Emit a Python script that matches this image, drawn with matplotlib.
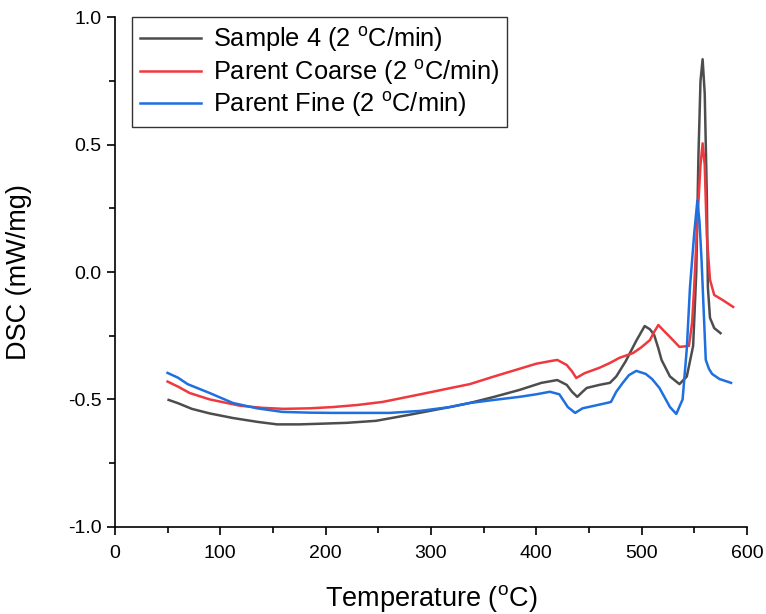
import matplotlib
matplotlib.use('Agg')
import matplotlib.pyplot as plt
from matplotlib.ticker import MultipleLocator, FormatStrFormatter

# DSC curves (temperature in C, DSC in mW/mg)
t_sample4 = [51, 60, 73, 90, 112, 135, 154, 175, 191, 220, 248, 280, 318, 337, 360,
             384, 405, 420, 429, 434, 439, 444, 448, 460, 470, 476, 485, 495, 503,
             508, 512, 516, 519, 527, 536, 543, 549, 552, 554, 556, 558, 560, 562,
             563, 565, 569, 575]
dsc_sample4 = [-0.502, -0.515, -0.537, -0.555, -0.573, -0.588, -0.598, -0.598, -0.596,
               -0.592, -0.584, -0.56, -0.53, -0.514, -0.49, -0.463, -0.435, -0.424,
               -0.443, -0.47, -0.49, -0.47, -0.455, -0.443, -0.435, -0.41, -0.35, -0.27,
               -0.212, -0.225, -0.247, -0.30, -0.345, -0.41, -0.44, -0.41, -0.29, 0.0,
               0.45, 0.75, 0.835, 0.7, 0.3, -0.06, -0.18, -0.22, -0.24]

t_coarse = [50, 60, 71, 90, 119, 140, 160, 185, 207, 230, 254, 290, 318, 337, 360, 384,
            400, 413, 420, 429, 434, 438, 446, 460, 470, 479, 492, 500, 508, 512, 516,
            521, 527, 536, 545, 548, 550, 553, 556, 558, 560, 562, 565, 569, 577, 587]
dsc_coarse = [-0.43, -0.45, -0.475, -0.5, -0.525, -0.533, -0.537, -0.535, -0.53, -0.522,
              -0.51, -0.48, -0.456, -0.44, -0.41, -0.38, -0.36, -0.35, -0.345, -0.365,
              -0.39, -0.416, -0.397, -0.376, -0.357, -0.337, -0.318, -0.295, -0.267,
              -0.235, -0.208, -0.23, -0.255, -0.294, -0.29, -0.2, -0.06, 0.2, 0.42,
              0.505, 0.42, 0.14, -0.03, -0.09, -0.11, -0.137]

t_fine = [50, 60, 69, 90, 112, 135, 159, 185, 207, 235, 261, 290, 318, 337, 360, 384,
          400, 413, 422, 430, 437, 444, 455, 467, 471, 476, 482, 488, 495, 504, 510, 517,
          527, 533, 539, 543, 546, 550, 553, 555, 557, 559, 561, 564, 567, 574, 585]
dsc_fine = [-0.396, -0.415, -0.44, -0.475, -0.514, -0.535, -0.549, -0.552, -0.553,
            -0.553, -0.553, -0.545, -0.53, -0.514, -0.502, -0.49, -0.48, -0.47, -0.48,
            -0.53, -0.553, -0.535, -0.525, -0.514, -0.51, -0.47, -0.436, -0.405, -0.388,
            -0.4, -0.42, -0.455, -0.53, -0.557, -0.50, -0.3, -0.06, 0.15, 0.28, 0.2,
            0.047, -0.15, -0.345, -0.38, -0.40, -0.42, -0.435]

labels = [r'Sample 4 (2 $\mathregular{^o}$C/min)',
          r'Parent Coarse (2 $\mathregular{^o}$C/min)',
          r'Parent Fine (2 $\mathregular{^o}$C/min)']
colors = ['#4d4d4d', '#f0383f', '#1e6fe0']

plt.rcParams['font.family'] = ['Liberation Sans', 'DejaVu Sans']
plt.rcParams['axes.unicode_minus'] = False

fig = plt.figure(figsize=(7.66, 6.14), dpi=100)
ax = fig.add_axes([0.150, 0.142, 0.825, 0.830])

for t, d, lab, c in zip([t_sample4, t_coarse, t_fine],
                        [dsc_sample4, dsc_coarse, dsc_fine], labels, colors):
    ax.plot(t, d, color=c, lw=1.8, label=lab)

ax.set_xlim(0, 600)
ax.set_ylim(-1.0, 1.0)
ax.xaxis.set_major_locator(MultipleLocator(100))
ax.xaxis.set_minor_locator(MultipleLocator(50))
ax.yaxis.set_major_locator(MultipleLocator(0.5))
ax.yaxis.set_minor_locator(MultipleLocator(0.25))
ax.yaxis.set_major_formatter(FormatStrFormatter('%.1f'))
ax.tick_params(which='major', direction='out', length=6, width=1.2, labelsize=14)
ax.tick_params(axis='x', which='major', pad=7)
ax.tick_params(which='minor', direction='out', length=4, width=1.2)
ax.spines['top'].set_visible(False)
ax.spines['right'].set_visible(False)
ax.spines['left'].set_linewidth(1.2)
ax.spines['bottom'].set_linewidth(1.2)

ax.set_xlabel(r'Temperature ($\mathregular{^o}$C)', fontsize=19.5, labelpad=15)
ax.set_ylabel('DSC (mW/mg)', fontsize=19.5, labelpad=26)

leg = ax.legend(loc='upper left', fontsize=18.3, frameon=True, fancybox=False,
                edgecolor='black', handlelength=2.4, handletextpad=0.5,
                borderaxespad=0.0, bbox_to_anchor=(0.027, 1.0), labelspacing=0.15,
                borderpad=0.3)
leg.get_frame().set_linewidth(1.0)

fig.savefig('out.png', dpi=100)
